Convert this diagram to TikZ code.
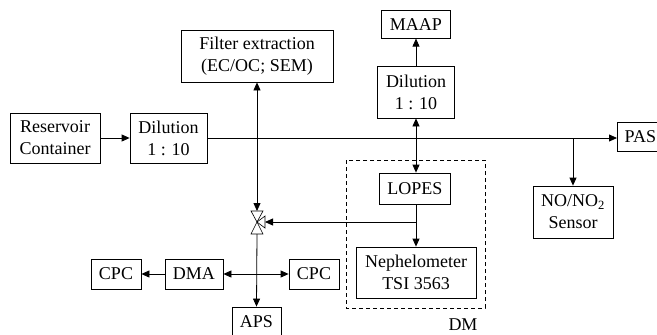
\documentclass[tikz,border=0pt]{standalone}
\usepackage{fontspec}
\setmainfont{Liberation Serif}
\usepackage{tikz}
\usetikzlibrary{positioning,arrows.meta}

\begin{document}
\begin{tikzpicture}[
    x=1pt, y=-1pt,
    unit/.style={rectangle, draw, line width=0.8pt, align=center, inner sep=0pt, font=\fontsize{18}{22}\selectfont},
    flow/.style={line width=0.8pt, -{Triangle[length=8pt,width=7pt]}},
    flow2/.style={line width=0.8pt, {Triangle[length=8pt,width=7pt]}-{Triangle[length=8pt,width=7pt]}}
]
\useasboundingbox (0,0) rectangle (657,335);

% Sources and main line
\node[unit, minimum width=90pt, minimum height=50pt] (res) at (55,138) {Reservoir\\Container};
\node[unit, minimum width=77pt, minimum height=50pt] (dil1) at (168.5,138) {Dilution\\1 : 10};
\node[unit, minimum width=46pt, minimum height=29pt, anchor=west] (pas) at (617,136.5) {PAS};

% Upper branch
\node[unit, minimum width=152pt, minimum height=52pt] (filt) at (257,56) {Filter extraction\\(EC/OC; SEM)};
\node[unit, minimum width=77pt, minimum height=52pt] (dil2) at (416,92) {Dilution\\1 : 10};
\node[unit, minimum width=69pt, minimum height=28pt, above=27pt of dil2] (maap) {MAAP};

% DM group
\node[unit, minimum width=71pt, minimum height=31pt] (lopes) at (415,188.5) {LOPES};
\node[unit, minimum width=120pt, minimum height=51pt] (neph) at (416,272.5) {Nephelometer\\TSI 3563};
\draw[line width=0.8pt, dash pattern=on 4pt off 3pt] (346,160) rectangle (485,308);
\node[font=\fontsize{18}{22}\selectfont, inner sep=0pt] (dm) at (463,325) {DM};

\node[unit, minimum width=80pt, minimum height=52pt] (sens) at (573,212) {NO/NO\textsubscript{2}\\Sensor};

% Lower branch
\node[unit, minimum width=58pt, minimum height=30pt] (dma) at (194,274) {DMA};
\node[unit, minimum width=50pt, minimum height=30pt] (cpcl) at (116,274) {CPC};
\node[unit, minimum width=50pt, minimum height=30pt] (cpcr) at (314,274) {CPC};
\node[unit, minimum width=49pt, minimum height=29pt] (aps) at (256.5,321.5) {APS};

% Valve
\coordinate (vc) at (257,222);
\coordinate (vtop) at (257,211);
\coordinate (vbot) at (257,234);
\coordinate (vright) at (265,222);
\draw[line width=0.6pt] (vc) -- (251,211) -- (263,211) -- cycle;
\draw[line width=0.6pt] (vc) -- (251,234) -- (263,234) -- cycle;
\draw[line width=0.6pt] (vc) -- (265,216) -- (265,228) -- cycle;

% Junctions
\coordinate (jsens) at (sens.north |- dil1.east);
\coordinate (jneph) at (416,222);

% Connections
\draw[flow] (res) -- (dil1);
\draw[flow] (dil1.east) -- (dil1.east -| pas.west);
\draw[flow] (jsens) -- (sens.north);
\draw[flow] (dil2) -- (maap);
\draw[flow2] (dil2.south) -- (dil2.south |- lopes.north);
\draw[flow2] (vtop) -- (filt.south);
\draw[flow] (lopes.south -| jneph) -- (neph.north);
\draw[flow] (jneph) -- (vright);
\draw[flow] (vbot) -- (aps.north);
\draw[flow2] (dma.east) -- (cpcr.west);
\draw[flow] (dma) -- (cpcl);

\end{tikzpicture}
\end{document}
